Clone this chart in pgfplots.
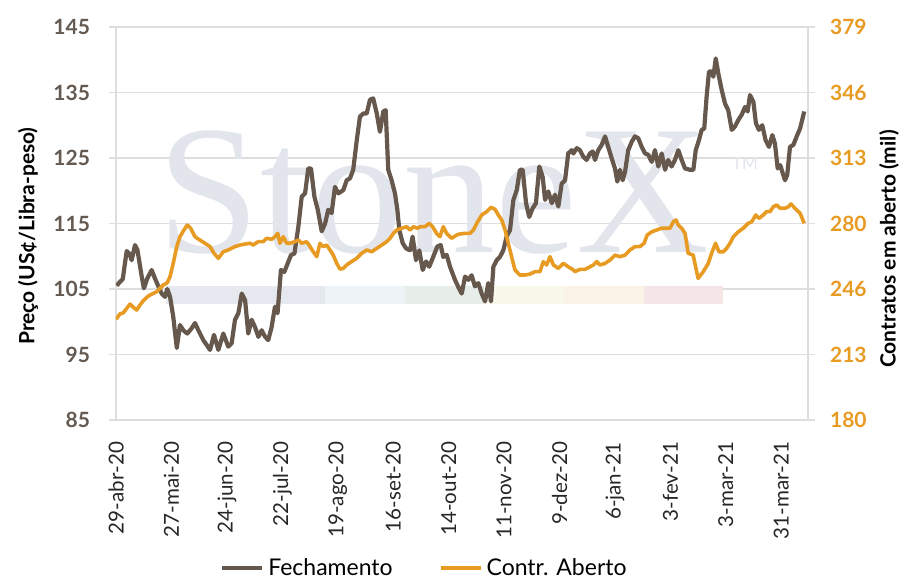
\documentclass[border=0pt]{standalone}
\usepackage{fontspec}
\setmainfont{Lato}
\newfontfamily\wmfont{Liberation Serif}
\usepackage{pgfplots}
\usepackage{pgfplotstable}
\pgfplotsset{compat=1.18}
\usetikzlibrary{calc}

\definecolor{fech}{RGB}{102,88,77}
\definecolor{contr}{RGB}{232,155,35}
\definecolor{gridc}{RGB}{222,222,222}
\definecolor{wm}{RGB}{226,230,236}
\definecolor{lbl}{RGB}{100,90,82}
\definecolor{bandA}{RGB}{229,233,239}
\definecolor{bandB}{RGB}{238,243,248}
\definecolor{bandC}{RGB}{231,237,233}
\definecolor{bandD}{RGB}{250,248,233}
\definecolor{bandE}{RGB}{251,243,230}
\definecolor{bandF}{RGB}{246,229,231}

% preço de fechamento (US c/lb), dias desde 29-abr-20
\pgfplotstableread{
d v
0.4 105.5
1.7 106.0
3.4 106.5
5.4 110.8
6.7 110.4
7.9 109.4
9.6 111.7
10.8 111.0
13.0 106.9
14.1 105.1
15.8 106.6
18.0 107.9
19.7 106.6
21.4 105.4
23.1 104.3
24.7 103.8
25.9 105.0
27.3 103.8
28.9 100.8
30.7 96.0
32.3 99.5
34.0 98.7
36.0 98.2
38.2 99.0
39.9 99.8
41.6 98.7
44.1 97.2
47.5 95.7
49.5 98.0
51.7 95.7
54.2 98.2
56.7 96.2
58.4 96.7
60.1 100.3
61.8 101.3
63.5 104.3
65.2 103.3
66.8 98.2
68.5 100.3
70.2 99.2
71.9 97.7
73.6 98.7
75.3 97.7
76.9 97.2
78.6 99.2
80.3 102.3
81.6 101.3
83.3 107.9
85.0 107.6
86.7 108.9
88.4 110.2
90.1 110.4
92.1 114.5
93.8 119.1
95.5 119.6
97.1 123.4
98.5 123.4
100.2 119.1
101.9 117.1
103.9 113.8
105.6 115.0
107.2 117.1
108.9 116.6
110.6 120.6
112.3 119.6
114.8 120.1
116.5 121.6
118.2 121.9
119.8 123.2
121.6 127.7
123.2 131.3
124.9 131.8
126.6 131.8
128.3 133.9
129.9 134.1
131.7 131.8
133.3 129.0
135.0 132.1
136.2 132.3
137.5 123.2
139.2 121.6
140.9 119.6
142.1 117.1
143.1 114.0
144.8 112.0
146.5 111.2
148.5 110.9
149.8 113.0
151.5 109.4
153.2 110.9
154.9 107.9
156.6 109.2
158.2 108.4
160.2 109.9
162.3 111.5
164.0 111.7
165.3 109.9
167.0 110.2
168.7 108.4
171.2 106.4
172.9 105.3
174.6 104.3
176.3 106.9
178.0 106.4
179.6 107.1
181.3 105.4
183.0 105.9
184.7 104.3
186.4 103.1
188.0 105.9
189.4 103.1
190.6 108.4
192.3 109.4
193.9 109.9
195.6 110.9
197.3 113.0
199.0 114.0
200.7 118.6
202.4 120.1
204.0 123.2
205.4 123.2
207.1 118.1
208.7 116.0
210.4 117.3
212.1 118.1
213.8 123.7
215.5 122.1
216.7 118.6
218.3 119.9
220.1 118.1
221.7 119.4
223.4 117.6
225.1 121.1
226.8 121.6
228.4 125.7
230.2 126.2
231.0 125.7
232.7 126.5
234.3 126.2
236.0 125.2
237.7 124.7
239.4 125.7
240.8 126.0
241.9 124.7
243.6 126.2
245.3 127.0
247.0 128.3
248.6 126.7
250.4 124.9
252.0 123.4
253.2 121.4
254.5 123.2
255.9 121.6
257.1 122.9
258.7 126.2
260.5 127.5
262.1 128.3
263.8 128.0
265.5 126.7
267.2 125.7
268.8 125.5
270.6 124.4
272.2 126.2
273.9 123.7
275.6 125.7
277.3 123.2
278.9 124.7
280.6 123.7
282.3 124.7
284.0 126.2
285.7 124.7
287.4 123.4
289.9 123.2
291.6 123.2
292.8 126.2
294.4 127.7
295.8 129.3
297.1 129.5
298.3 134.4
299.5 138.2
300.9 138.2
301.7 137.4
302.9 140.2
304.2 137.9
305.9 135.4
307.6 133.3
309.2 132.3
311.0 129.3
312.6 129.8
314.3 130.8
316.0 131.6
317.7 132.8
319.0 132.1
320.2 134.6
321.9 133.6
323.2 130.3
324.7 129.3
326.4 130.0
328.1 127.7
329.8 126.7
331.5 128.5
332.8 127.2
334.2 123.4
335.5 123.9
336.7 122.7
337.9 121.6
339.0 122.4
340.4 126.7
342.1 127.0
343.8 128.3
345.5 129.5
347.6 132.1
}\fechtab

% contratos em aberto (mil)
\pgfplotstableread{
d r
0.0 231.0
2.0 233.7
3.7 234.3
5.4 236.5
7.1 238.7
8.7 237.1
10.5 235.7
12.1 238.2
13.8 240.4
15.5 242.1
17.2 243.3
18.8 244.1
20.6 245.0
22.2 246.7
23.9 248.4
25.9 249.5
27.3 252.6
28.9 259.3
30.7 267.8
32.3 272.8
34.3 276.2
36.0 278.7
37.7 277.1
39.9 272.8
42.4 271.1
44.9 269.5
47.5 267.8
49.5 264.4
51.7 261.9
54.2 265.2
56.7 266.1
60.1 267.8
62.6 268.6
65.2 269.1
67.7 269.5
69.3 268.6
71.8 270.3
74.3 270.3
76.1 272.0
78.6 271.5
80.3 272.8
81.7 274.5
82.8 269.5
84.5 272.8
86.2 269.5
87.9 269.5
90.4 270.3
92.1 271.1
93.8 269.5
96.3 270.3
98.0 267.8
99.6 265.2
101.4 262.7
103.0 269.5
104.7 267.8
106.4 268.6
108.1 266.1
109.7 263.5
111.5 259.3
113.1 256.4
114.8 256.8
116.5 258.5
119.0 260.2
121.6 261.9
124.1 264.4
126.6 266.1
129.1 265.2
131.7 266.9
134.2 268.6
136.7 270.3
138.4 272.0
140.1 274.5
141.8 276.2
144.3 277.1
146.8 277.9
148.5 276.2
150.2 277.9
152.2 277.1
153.9 277.9
156.1 277.9
158.2 279.6
159.9 277.9
161.9 274.5
163.6 272.8
165.3 277.9
167.0 274.5
169.5 272.0
172.1 273.7
173.7 274.2
176.3 274.5
178.8 274.5
180.5 276.2
182.2 279.6
184.7 283.8
187.2 285.5
189.4 287.7
191.4 286.7
193.1 283.8
194.8 281.3
196.5 276.2
198.1 269.5
199.8 262.7
201.5 256.0
204.0 253.4
206.6 253.4
209.1 253.9
211.6 255.1
214.1 255.1
215.8 260.2
217.5 258.5
219.2 262.7
220.9 258.5
223.4 256.8
225.9 259.3
228.4 257.6
231.0 256.0
231.8 255.1
234.3 256.3
236.9 256.3
239.4 257.6
241.1 258.5
242.8 260.2
244.4 258.5
247.0 259.3
249.5 261.0
252.0 263.5
254.5 262.7
257.1 263.5
259.6 266.1
262.1 267.8
264.6 267.8
266.7 269.5
268.3 273.7
270.6 275.3
273.0 276.2
275.6 277.1
278.1 277.1
279.8 277.1
281.5 280.4
282.8 281.3
284.0 278.7
285.7 277.1
287.4 274.5
289.0 264.4
291.5 263.5
294.0 251.7
296.6 255.1
299.1 259.3
300.8 264.4
302.8 269.5
304.5 265.2
306.7 265.2
308.4 266.9
310.1 269.5
311.8 272.8
314.3 275.3
316.8 277.1
319.3 279.6
321.1 280.4
323.1 283.8
324.7 282.1
326.9 283.8
328.6 285.5
330.3 285.5
332.0 288.0
333.7 288.9
335.4 287.2
337.9 287.2
339.6 288.0
340.9 289.4
342.9 287.2
345.5 284.7
347.6 279.6
}\contrtab

\begin{document}
\begin{tikzpicture}
\pgfplotsset{
  every axis/.append style={
    scale only axis, width=346pt, height=196.5pt,
    xmin=0, xmax=349.5,
    tick align=outside, major tick length=3.5pt,
    ytick style={gridc, line width=0.75pt},
    y axis line style={gridc, line width=0.75pt},
  },
}
\begin{axis}[
  ymin=85, ymax=145,
  ytick={85,95,...,145},
  axis y line*=left, axis x line*=bottom,
  x axis line style={draw=none},
  xtick style={draw=none},
  ymajorgrids, grid style={gridc, line width=0.75pt},
  xtick={0,28,...,336},
  xticklabels={29-abr-20,27-mai-20,24-jun-20,22-jul-20,19-ago-20,16-set-20,
    14-out-20,11-nov-20,9-dez-20,6-jan-21,3-fev-21,3-mar-21,31-mar-21},
  xticklabel style={rotate=90, anchor=east, font=\fontsize{10.3}{12}\selectfont, text=black!85},
  xticklabel shift=4pt,
  yticklabel style={font=\bfseries\fontsize{10.5}{12}\selectfont, text=lbl},
  yticklabel shift=6pt,
  /pgf/number format/assume math mode=true,
  ylabel={Preço (US¢/Libra-peso)},
  ylabel style={at={(axis description cs:-0.127,0.468)}, anchor=center,
    font=\bfseries\fontsize{10.5}{12}\selectfont},
  legend style={at={(axis description cs:0.447,-0.377)}, anchor=center,
    legend columns=2, draw=none, fill=none,
    font=\fontsize{11.5}{13}\selectfont,
    /tikz/every even column/.append style={column sep=21pt}},
  legend image code/.code={\draw[#1] (0pt,0pt) -- (20pt,0pt);},
]
\coordinate (bl) at (rel axis cs:0,0);
\coordinate (tr) at (rel axis cs:1,1);
% faixa decorativa e marca d'agua
\fill[bandA] (axis cs:25.3,102.7) rectangle (axis cs:105.6,105.46);
\fill[bandB] (axis cs:105.6,102.7) rectangle (axis cs:146.0,105.46);
\fill[bandC] (axis cs:146.0,102.7) rectangle (axis cs:185.9,105.46);
\fill[bandD] (axis cs:185.9,102.7) rectangle (axis cs:226.3,105.46);
\fill[bandE] (axis cs:226.3,102.7) rectangle (axis cs:266.7,105.46);
\fill[bandF] (axis cs:266.7,102.7) rectangle (axis cs:306.6,105.46);
\node[anchor=base, text=wm, inner sep=0pt,
  font=\wmfont\fontsize{92}{92}\selectfont] at (axis cs:160.5,110.6) {StoneX};
\node[text=wm, font=\fontsize{8.5}{9}\selectfont] at (axis cs:317.7,124.1) {TM};
\addplot[fech, line width=2.1pt, line join=round] table {\fechtab};
\addlegendentry{Fechamento}
\addlegendimage{contr, line width=2pt}
\addlegendentry{Contr. Aberto}
\end{axis}
\begin{axis}[
  ymin=180, ymax=379,
  axis y line*=right, axis x line=none,
  ytick={180,213.1667,246.3333,279.5,312.6667,345.8333,379},
  yticklabels={180,213,246,280,313,346,379},
  yticklabel style={font=\bfseries\fontsize{10.5}{12}\selectfont, text=contr},
  yticklabel shift=4pt,
  ylabel={Contratos em aberto (mil)},
  ylabel style={at={(axis description cs:1.117,0.435)}, anchor=center, rotate=0,
    font=\bfseries\fontsize{10.5}{12}\selectfont},
]
\addplot[contr, line width=1.8pt, line join=round] table {\contrtab};
\end{axis}
\pgfresetboundingbox
\path[use as bounding box] ($(bl)+(-58pt,-79.5pt)$) rectangle ($(tr)+(53.5pt,13.5pt)$);
\end{tikzpicture}
\end{document}
